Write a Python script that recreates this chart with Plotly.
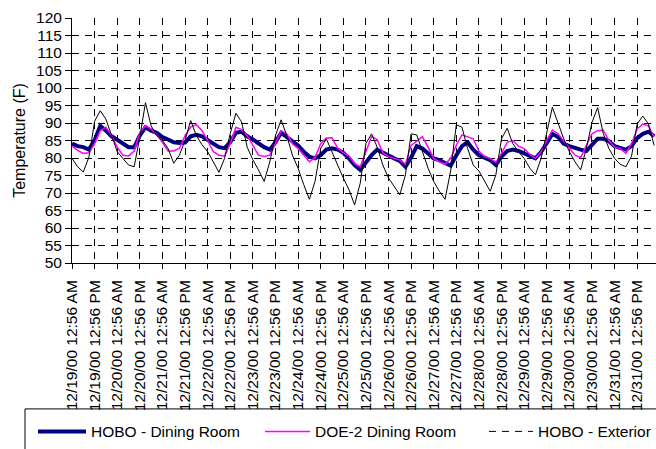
import plotly.graph_objects as go

# Sample times, hours after 12/19/00 12:56 AM (3-hour logging interval)
hours = list(range(0, 310, 3))

# HOBO logger, dining room (F)
hobo_dining = [
    84.1, 83.4, 83.1, 82.4, 85.1, 89.2, 87.8, 86.2, 85.2, 84.1, 83.1, 83.1,
    86.4, 88.8, 87.8, 87.2, 86.0, 85.3, 84.5, 84.3, 84.4, 86.2, 86.6, 86.2,
    85.0, 84.1, 83.1, 82.8, 84.5, 87.2, 87.5, 86.2, 85.3, 84.2,
    83.1, 82.4, 84.5, 87.2, 86.0, 84.5, 83.6, 81.8, 80.4, 79.9, 80.8, 82.4,
    82.8, 82.4, 81.5, 79.9, 78.0, 76.6, 78.9, 80.8, 82.4, 81.5, 80.8, 79.9,
    79.2, 77.5, 80.1, 83.4, 82.7, 81.3, 79.9, 79.4, 78.5,
    77.8, 80.8, 83.4, 84.5, 82.4, 80.8, 80.1, 79.4, 78.0, 80.4, 82.0, 82.4,
    82.0, 81.3, 80.6, 79.9, 81.7, 84.1, 86.9, 86.0, 84.1, 83.4, 82.8, 82.4,
    82.0, 83.8, 85.5, 85.5, 84.8, 83.4, 82.8, 82.4, 83.4, 85.7, 86.9, 87.5,
    86.2,
]

# DOE-2 simulation, dining room (F)
doe2_dining = [
    83.4, 82.2, 81.3, 81.5, 84.1, 87.8, 88.8, 86.4, 83.1, 80.8, 80.6, 82.0,
    87.2, 89.2, 88.3, 86.6, 84.5, 82.0, 82.0, 82.7, 86.4, 88.8, 89.6, 87.8,
    85.0, 81.8, 80.8, 80.6, 84.1, 88.8, 88.1, 86.4, 83.6, 80.8,
    80.4, 80.8, 84.1, 87.8, 86.9, 84.1, 82.7, 80.8, 78.9, 80.1, 84.1, 85.7,
    85.8, 82.8, 81.5, 80.6, 78.4, 77.5, 82.0, 86.1, 85.3, 81.5, 80.4, 79.9,
    79.4, 78.2, 83.6, 84.8, 86.1, 83.1, 79.9, 78.9, 78.2,
    79.9, 83.6, 86.6, 86.0, 85.5, 82.0, 80.4, 79.9, 78.8, 81.3, 84.5, 85.0,
    83.4, 82.7, 81.0, 79.9, 81.7, 85.0, 88.0, 86.9, 85.0, 82.8, 80.8, 80.1,
    83.6, 86.9, 87.8, 88.0, 85.0, 83.1, 82.7, 81.3, 84.1, 88.3, 89.7, 89.2,
    86.0,
]

# HOBO logger, exterior (F)
hobo_exterior = [
    79.9, 77.5, 76.0, 80.3, 90.5, 93.5, 91.1, 86.4, 81.8, 79.9, 78.0, 77.5,
    86.0, 95.8, 89.2, 86.4, 85.0, 82.7, 78.5, 80.8, 85.0, 90.7, 86.4, 83.8,
    81.8, 78.9, 75.9, 79.9, 87.0, 92.8, 90.3, 83.1, 79.5, 76.6,
    73.3, 78.9, 86.4, 90.9, 86.4, 80.8, 77.1, 72.4, 68.2, 73.3, 82.7, 85.5,
    82.0, 78.0, 74.3, 71.0, 66.6, 72.8, 84.1, 86.9, 83.1, 78.0, 74.3, 71.9,
    69.5, 75.2, 86.9, 86.6, 81.8, 77.1, 73.3, 70.5, 68.2,
    76.3, 89.5, 88.8, 82.7, 78.0, 76.3, 73.5, 70.5, 75.2, 85.5, 88.5, 84.1,
    81.8, 79.9, 77.1, 75.2, 79.9, 87.0, 94.5, 90.0, 85.5, 81.8, 78.9, 76.6,
    82.7, 90.1, 94.4, 87.0, 82.7, 79.9, 78.2, 77.5, 80.5, 89.7, 92.0, 89.7,
    83.6,
]

# Category tick labels, every 12 hours
dates = ["12/19/00", "12/20/00", "12/21/00", "12/22/00", "12/23/00", "12/24/00", "12/25/00",
         "12/26/00", "12/27/00", "12/28/00", "12/29/00", "12/30/00", "12/31/00"]
times = ["12:56 AM", "12:56 PM"]
tick_text = [f"{d} {t}" for d in dates for t in times]
tick_vals = [12 * i for i in range(len(tick_text))]

FONT = "Liberation Sans, Arial, sans-serif"
FS = 15.5
W, H = 656, 449
L, R, T, B = 72, 0, 17.5, 183
pw, ph = W - L - R, H - T - B


def px_x(p):
    return (p - L) / pw


def px_y(p):
    return (H - B - p) / ph


fig = go.Figure()
fig.add_trace(go.Scatter(x=hours, y=hobo_dining, mode="lines", name="HOBO - Dining Room",
                         legend="legend", line=dict(color="#000080", width=4)))
fig.add_trace(go.Scatter(x=hours, y=doe2_dining, mode="lines", name="DOE-2 Dining Room",
                         legend="legend2", line=dict(color="#FF00FF", width=1.5)))
fig.add_trace(go.Scatter(x=hours, y=hobo_exterior, mode="lines", showlegend=False,
                         line=dict(color="black", width=1)))
# dashed key for the exterior series
fig.add_trace(go.Scatter(x=[None], y=[None], mode="lines", name="HOBO - Exterior",
                         legend="legend3", line=dict(color="black", width=1, dash="7px,6px")))

# legend frame
fig.add_shape(type="rect", xref="paper", yref="paper",
              x0=px_x(25), x1=px_x(720), y0=px_y(414), y1=px_y(480),
              line=dict(color="black", width=1), fillcolor="rgba(0,0,0,0)")


def legend_at(xpx, itemwidth):
    return dict(orientation="h", x=px_x(xpx), xanchor="left", y=px_y(420), yanchor="top",
                font=dict(family=FONT, size=FS, color="black"),
                bgcolor="rgba(0,0,0,0)", borderwidth=0, itemwidth=itemwidth)


grid = dict(showgrid=True, gridcolor="black", gridwidth=1, griddash="7px,6px",
            zeroline=False, showline=True, linecolor="black", linewidth=1,
            ticks="outside", tickcolor="black", automargin=False,
            tickfont=dict(family=FONT, size=FS, color="black"))

fig.update_layout(
    width=W, height=H,
    margin=dict(l=L, r=R, t=T, b=B, pad=0),
    paper_bgcolor="white", plot_bgcolor="white",
    font=dict(family=FONT, size=FS, color="black"),
    showlegend=True,
    legend=legend_at(33, 48),
    legend2=legend_at(260, 45),
    legend3=legend_at(484, 44),
    xaxis=dict(range=[0, 310], tickmode="array", tickvals=tick_vals, ticktext=tick_text,
               tickangle=-90, ticklen=5, ticklabelstandoff=5, **grid),
    yaxis=dict(range=[50, 120], tick0=50, dtick=5, ticklen=6, **grid,
               title=dict(text="Temperature (F)", font=dict(family=FONT, size=16, color="black"),
                          standoff=6)),
)

fig.write_html("out.html")
